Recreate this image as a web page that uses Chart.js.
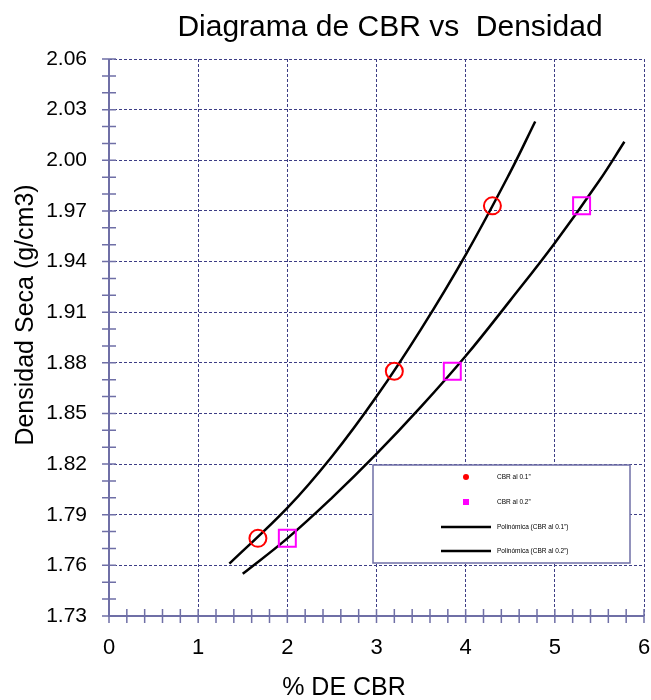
<!DOCTYPE html>
<html>
<head>
<meta charset="utf-8">
<script src="https://cdn.jsdelivr.net/npm/chart.js@4"></script>
<style>
  html, body { margin: 0; padding: 0; background: #fff; overflow: hidden; }
  #wrap { width: 651px; height: 700px; position: relative; }
  canvas { display: block; }
</style>
</head>
<body>
<div id="wrap"><canvas id="cbr-chart"></canvas></div>
<script>
// measured points
const cbr01X = [1.67, 3.2, 4.3];
const cbr01Y = [1.776, 1.875, 1.973];
const cbr02X = [2.0, 3.85, 5.3];
const cbr02Y = [1.776, 1.875, 1.973];

// trendlines
const fit01X = [1.35, 2.0, 2.5, 3.0, 3.5, 4.0, 4.5, 4.78];
const fit01Y = [1.761, 1.794, 1.8245, 1.860, 1.900, 1.944, 1.993, 2.023];
const fit02X = [1.5, 2.0, 2.5, 3.0, 3.5, 4.0, 4.5, 5.0, 5.5, 5.78];
const fit02Y = [1.755, 1.776, 1.800, 1.826, 1.854, 1.884, 1.917, 1.951, 1.988, 2.011];

const xTickLabels = ["0", "1", "2", "3", "4", "5", "6"];
const yTickLabels = ["1.73", "1.76", "1.79", "1.82", "1.85", "1.88", "1.91", "1.94", "1.97", "2.00", "2.03", "2.06"];

const chartTitle = "Diagrama de CBR vs  Densidad";
const xTitle = "% DE CBR";
const yTitle = "Densidad Seca (g/cm3)";

const axisColor = "#6f6fa6";
const gridColor = "#3d3d85";
const FONT = "'Liberation Sans', Arial, sans-serif";

const toPts = (xs, ys) => xs.map((x, i) => ({ x: x, y: ys[i] }));
const xLabel = (v) => xTickLabels.find((l) => Math.abs(Number(l) - v) < 1e-6);
const yLabel = (v) => yTickLabels.find((l) => Math.abs(Number(l) - v) < 1e-6);

// axis lines, crossing tick marks, titles and the boxed legend
const frame = {
  id: "frame",
  beforeDatasetsDraw(chart) {
    const { ctx, chartArea: a, scales } = chart;
    ctx.save();
    ctx.strokeStyle = axisColor;
    ctx.lineWidth = 2;
    ctx.beginPath();
    ctx.moveTo(a.left, a.top);
    ctx.lineTo(a.left, a.bottom);
    ctx.lineTo(a.right, a.bottom);
    ctx.stroke();
    ctx.lineWidth = 1.5;
    ctx.beginPath();
    scales.x.ticks.forEach((t) => {
      const px = scales.x.getPixelForValue(t.value);
      ctx.moveTo(px, a.bottom - 7);
      ctx.lineTo(px, a.bottom + 7);
    });
    scales.y.ticks.forEach((t) => {
      const py = scales.y.getPixelForValue(t.value);
      ctx.moveTo(a.left - 7, py);
      ctx.lineTo(a.left + 7, py);
    });
    ctx.stroke();

    // titles
    ctx.fillStyle = "#000";
    ctx.textAlign = "center";
    ctx.textBaseline = "alphabetic";
    ctx.font = "30px " + FONT;
    ctx.fillText(chartTitle, 390, 36);
    ctx.font = "25px " + FONT;
    ctx.fillText(xTitle, 344, 695);
    ctx.translate(33, 315);
    ctx.rotate(-Math.PI / 2);
    ctx.fillText(yTitle, 0, 0);
    ctx.restore();
  },
  afterDraw(chart) {
    const { ctx, chartArea: a } = chart;
    const ds = chart.data.datasets;
    const w = 257, h = 98;
    const left = a.right - 14 - w;
    const top = a.bottom - 53 - h;
    ctx.save();
    ctx.fillStyle = "#fff";
    ctx.fillRect(left, top, w, h);
    ctx.strokeStyle = axisColor;
    ctx.lineWidth = 1.5;
    ctx.strokeRect(left, top, w, h);
    const rows = [12, 37, 62, 86];
    ctx.font = "6.5px " + FONT;
    ctx.textBaseline = "middle";
    ds.forEach((d, i) => {
      const y = top + rows[i];
      if (d.showLine) {
        ctx.strokeStyle = d.borderColor;
        ctx.lineWidth = 2.5;
        ctx.beginPath();
        ctx.moveTo(left + 68, y);
        ctx.lineTo(left + 118, y);
        ctx.stroke();
      } else if (d.pointStyle === "rect") {
        ctx.fillStyle = d.borderColor;
        ctx.fillRect(left + 90, y - 3, 6, 6);
      } else {
        ctx.fillStyle = d.borderColor;
        ctx.beginPath();
        ctx.arc(left + 93, y, 3, 0, Math.PI * 2);
        ctx.fill();
      }
      ctx.fillStyle = "#000";
      ctx.fillText(d.label, left + 124, y);
    });
    ctx.restore();
  },
};

Chart.defaults.font.family = FONT;
Chart.defaults.color = "#000";

const ctx = document.getElementById("cbr-chart");
new Chart(ctx, {
  type: "scatter",
  data: {
    datasets: [
      {
        label: "CBR al 0.1\u201D",
        data: toPts(cbr01X, cbr01Y),
        pointStyle: "circle",
        pointRadius: 8.5,
        pointHoverRadius: 8.5,
        borderWidth: 2,
        borderColor: "#ff0000",
        backgroundColor: "transparent",
        showLine: false,
      },
      {
        label: "CBR al 0.2\u201D",
        data: toPts(cbr02X, cbr02Y),
        pointStyle: "rect",
        pointRadius: 12,
        pointHoverRadius: 12,
        borderWidth: 2,
        borderColor: "#ff00ff",
        backgroundColor: "transparent",
        showLine: false,
      },
      {
        label: "Polinómica (CBR al 0.1\u201D)",
        data: toPts(fit01X, fit01Y),
        showLine: true,
        pointRadius: 0,
        borderColor: "#000",
        borderWidth: 2.5,
        tension: 0.4,
      },
      {
        label: "Polinómica (CBR al 0.2\u201D)",
        data: toPts(fit02X, fit02Y),
        showLine: true,
        pointRadius: 0,
        borderColor: "#000",
        borderWidth: 2.5,
        tension: 0.4,
      },
    ],
  },
  options: {
    responsive: true,
    maintainAspectRatio: false,
    animation: false,
    layout: { autoPadding: false, padding: { left: 0, right: 7, top: 59, bottom: 0 } },
    plugins: {
      legend: { display: false },
      tooltip: { enabled: false },
      title: { display: false },
    },
    scales: {
      x: {
        type: "linear",
        min: 0,
        max: 6,
        afterFit: (s) => { s.height = 84; s.paddingRight = 0; s.paddingLeft = 0; },
        border: { display: false, dash: [3, 2] },
        grid: {
          drawTicks: false,
          lineWidth: 1,
          color: (c) => (xLabel(c.tick.value) !== undefined ? gridColor : "transparent"),
        },
        ticks: {
          stepSize: 0.2,
          autoSkip: false,
          maxRotation: 0,
          padding: 19,
          font: { size: 22 },
          callback: (v) => xLabel(v) || "",
        },
      },
      y: {
        type: "linear",
        min: 1.73,
        max: 2.06,
        afterFit: (s) => { s.width = 109; s.paddingTop = 0; s.paddingBottom = 0; },
        border: { display: false, dash: [3, 2] },
        grid: {
          drawTicks: false,
          lineWidth: 1,
          color: (c) => (yLabel(c.tick.value) !== undefined ? gridColor : "transparent"),
        },
        ticks: {
          stepSize: 0.01,
          autoSkip: false,
          maxTicksLimit: 100,
          padding: 22,
          font: { size: 21 },
          callback: (v) => yLabel(v) || "",
        },
      },
    },
  },
  plugins: [frame],
});
</script>
</body>
</html>
